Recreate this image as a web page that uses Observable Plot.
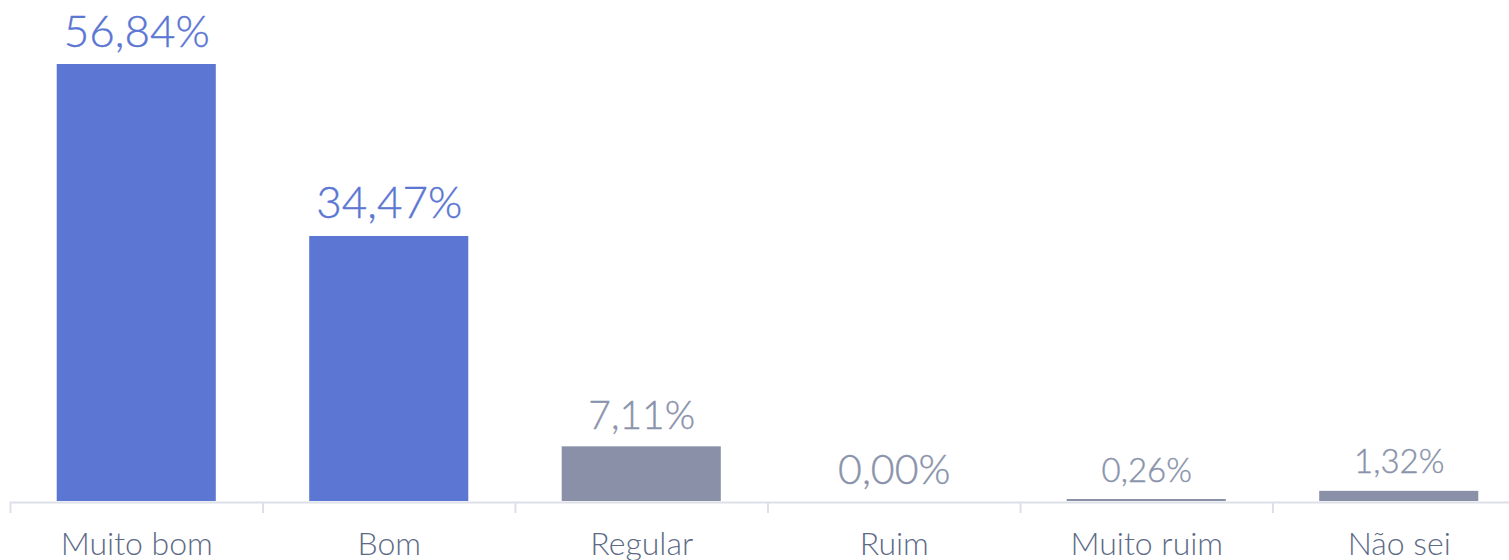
<!DOCTYPE html>
<html>
<head>
<meta charset="utf-8">
<script src="https://cdn.jsdelivr.net/npm/d3@7"></script>
<script src="https://cdn.jsdelivr.net/npm/@observablehq/plot@0.6"></script>
<style>
  html, body { margin: 0; padding: 0; background: #fff; overflow: hidden; }
  svg { font-family: Lato, "Noto Sans", sans-serif; font-weight: 300; }
</style>
</head>
<body>
<div id="chart"></div>
<script>
const categories = ["Muito bom", "Bom", "Regular", "Ruim", "Muito ruim", "Não sei"];
const values = [56.84, 34.47, 7.11, 0.00, 0.26, 1.32];
const groups = ["destaque", "destaque", "outro", "outro", "outro", "outro"];

const data = categories.map((c, i) => ({category: c, value: values[i], group: groups[i]}));

// presentation
const W = 1509, H = 560;
const mL = 10, mR = -16, mT = 64, mB = 59;
const step = (W - mL - mR) / categories.length;
const barColor = {destaque: "#5b76d3", outro: "#8990a8"};
const textColor = {destaque: "#5b76d3", outro: "#8a93ab"};
const labelSize = {"Muito bom": 44, "Bom": 44, "Regular": 39, "Ruim": 41, "Muito ruim": 33, "Não sei": 33};
const fmt = v => v.toFixed(2).replace(".", ",") + "%";

const chart = Plot.plot({
  width: W,
  height: H,
  marginLeft: mL,
  marginRight: mR,
  marginTop: mT,
  marginBottom: mB,
  x: {domain: categories, paddingInner: 0.37, paddingOuter: 0.185, round: false, axis: null},
  y: {domain: [0, d3.max(values)], axis: null},
  marks: [
    Plot.barY(data, {x: "category", y: "value", fill: d => barColor[d.group]}),
    Plot.ruleY([0], {stroke: "#dde0e8", strokeWidth: 2, dy: 1}),
    Plot.ruleX(categories, {x: d => d, y1: 0, dx: -step / 2, stroke: "#dde0e8", strokeWidth: 2, insetTop: 1, insetBottom: -12}),
    Plot.text(data, {
      x: "category", y: "value", text: d => fmt(d.value),
      fill: d => textColor[d.group], fontSize: d => labelSize[d.category],
      lineAnchor: "bottom", dy: -18, stroke: d => textColor[d.group], strokeWidth: 0.4
    }),
    Plot.axisX({tickSize: 0, tickPadding: 31, fontSize: 32, fill: "#5d6a86", stroke: "#5d6a86", strokeWidth: 0.3, label: null})
  ]
});
document.getElementById("chart").appendChild(chart);
</script>
</body>
</html>
